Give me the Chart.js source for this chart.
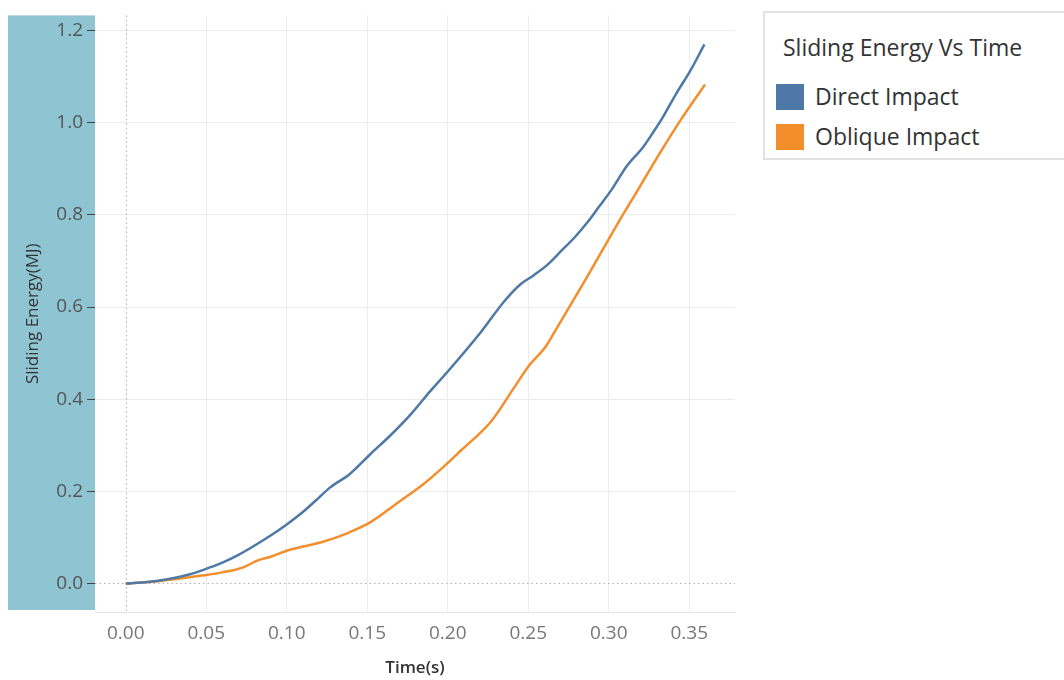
<!DOCTYPE html>
<html>
<head>
<meta charset="utf-8">
<script src="https://cdn.jsdelivr.net/npm/chart.js@4/dist/chart.umd.min.js"></script>
<style>
  html, body { margin: 0; padding: 0; background: #fff; }
  #wrap { position: relative; width: 1064px; height: 680px; overflow: hidden; font-family: "Open Sans", sans-serif; }
  #chart { position: absolute; left: 0; top: 0; }
  #legend { position: absolute; left: 763px; top: 11px; width: 320px; height: 145px; border: 2px solid #e2e2e2; background: #fff; color: #333; }
  #legend .title { position: absolute; left: 18px; top: 19px; font-size: 23px; line-height: 30px; white-space: nowrap; }
  #legend .item { position: absolute; left: 11px; height: 30px; font-size: 23px; line-height: 30px; white-space: nowrap; }
  #legend .sw { display: inline-block; width: 28px; height: 26px; vertical-align: middle; margin-right: 11px; position: relative; top: -2px; }
</style>
</head>
<body>
<div id="wrap">
  <canvas id="chart" width="1064" height="680"></canvas>
  <div id="legend">
    <div class="title">Sliding Energy Vs Time</div>
    <div class="item" style="top:68px"><span class="sw" style="background:#4e79a7"></span>Direct Impact</div>
    <div class="item" style="top:108px"><span class="sw" style="background:#f28e2b"></span>Oblique Impact</div>
  </div>
</div>
<script>
// time (s) and sliding energy (MJ)
var timeDirect = [0, 0.01, 0.02, 0.03, 0.04, 0.047, 0.06, 0.07, 0.078, 0.09,
  0.1, 0.11, 0.118, 0.127, 0.139, 0.152, 0.164, 0.177, 0.189, 0.2,
  0.22, 0.235, 0.245, 0.253, 0.262, 0.27, 0.279, 0.287, 0.294, 0.302,
  0.311, 0.3215, 0.3277, 0.3339, 0.3422, 0.3505, 0.3594];
var directImpact = [0, 0.002, 0.006, 0.012, 0.020, 0.028, 0.045, 0.062, 0.078, 0.104,
  0.128, 0.155, 0.18, 0.2085, 0.237, 0.281, 0.320, 0.367, 0.417, 0.460,
  0.543, 0.612, 0.649, 0.668, 0.692, 0.720, 0.752, 0.785, 0.818, 0.856,
  0.905, 0.948, 0.980, 1.014, 1.065, 1.112, 1.170];

var timeOblique = [0, 0.01, 0.02, 0.03, 0.047, 0.06, 0.073, 0.082, 0.09, 0.1,
  0.11, 0.121, 0.13, 0.139, 0.152, 0.17, 0.185, 0.197, 0.208, 0.227,
  0.241, 0.251, 0.261, 0.268, 0.286, 0.305, 0.3184, 0.3319, 0.3443, 0.3598];
var obliqueImpact = [0, 0.002, 0.005, 0.009, 0.017, 0.024, 0.035, 0.050, 0.058, 0.071,
  0.080, 0.089, 0.099, 0.111, 0.133, 0.178, 0.216, 0.252, 0.288, 0.352,
  0.424, 0.475, 0.515, 0.556, 0.662, 0.778, 0.856, 0.935, 1.004, 1.083];

var xTicks = [0, 0.05, 0.10, 0.15, 0.20, 0.25, 0.30, 0.35];
var yTicks = [0, 0.2, 0.4, 0.6, 0.8, 1.0, 1.2];

function pairs(xs, ys) {
  return xs.map(function(x, i) { return { x: x, y: ys[i] }; });
}

// teal band behind the y axis + dotted zero lines
var axisDecor = {
  id: 'axisDecor',
  beforeDraw: function(chart) {
    var ctx = chart.ctx, a = chart.chartArea;
    ctx.save();
    ctx.fillStyle = '#8fc4d2';
    ctx.fillRect(8, a.top, a.left - 8, a.bottom - a.top - 2);
    ctx.restore();
  },
  beforeDatasetsDraw: function(chart) {
    var ctx = chart.ctx, a = chart.chartArea;
    var x0 = chart.scales.x.getPixelForValue(0);
    var y0 = chart.scales.y.getPixelForValue(0);
    ctx.save();
    ctx.strokeStyle = '#b0b0b0';
    ctx.lineWidth = 1;
    ctx.setLineDash([1.5, 3]);
    ctx.beginPath();
    ctx.moveTo(Math.round(x0) + 0.5, a.top);
    ctx.lineTo(Math.round(x0) + 0.5, a.bottom);
    ctx.moveTo(a.left, Math.round(y0) + 0.5);
    ctx.lineTo(a.right, Math.round(y0) + 0.5);
    ctx.stroke();
    ctx.restore();
  }
};

new Chart(document.getElementById('chart'), {
  type: 'line',
  data: {
    datasets: [
      { label: 'Direct Impact', data: pairs(timeDirect, directImpact),
        borderColor: '#4e79a7', borderWidth: 2.5, pointRadius: 0, cubicInterpolationMode: 'monotone' },
      { label: 'Oblique Impact', data: pairs(timeOblique, obliqueImpact),
        borderColor: '#f28e2b', borderWidth: 2.5, pointRadius: 0, cubicInterpolationMode: 'monotone' }
    ]
  },
  options: {
    responsive: false,
    animation: false,
    layout: { padding: { left: 8, top: 12, right: 329, bottom: 0 } },
    plugins: { legend: { display: false }, tooltip: { enabled: false } },
    scales: {
      x: {
        type: 'linear',
        min: -0.0191,
        max: 0.3784,
        afterBuildTicks: function(s) { s.ticks = xTicks.map(function(v) { return { value: v }; }); },
        afterFit: function(s) { s.height = 68; },
        grid: {
          drawTicks: false,
          color: function(c) { return c.tick && c.tick.value === 0 ? 'rgba(0,0,0,0)' : '#ececec'; }
        },
        border: { display: true, color: '#e4e4e4' },
        ticks: {
          padding: 10,
          color: '#777',
          font: { family: 'Open Sans', size: 19 },
          callback: function(v) { return v.toFixed(2); }
        },
        title: {
          display: true, text: 'Time(s)', color: '#333',
          font: { family: 'Open Sans', size: 17, weight: '600' },
          padding: { top: 0, bottom: 2 }
        }
      },
      y: {
        type: 'linear',
        min: -0.062,
        max: 1.233,
        afterBuildTicks: function(s) { s.ticks = yTicks.map(function(v) { return { value: v }; }); },
        afterFit: function(s) { s.width = 87; },
        grid: {
          tickLength: 8,
          tickColor: '#444',
          color: function(c) { return c.tick && c.tick.value === 0 ? 'rgba(0,0,0,0)' : '#ececec'; }
        },
        border: { display: false },
        ticks: {
          padding: 4,
          color: '#555',
          font: { family: 'Open Sans', size: 19 },
          callback: function(v) { return v.toFixed(1); }
        },
        title: {
          display: true, text: 'Sliding Energy(MJ)', color: '#333',
          font: { family: 'Open Sans', size: 17 },
          padding: { top: 15, bottom: 0 }
        }
      }
    }
  },
  plugins: [axisDecor]
});
</script>
</body>
</html>
